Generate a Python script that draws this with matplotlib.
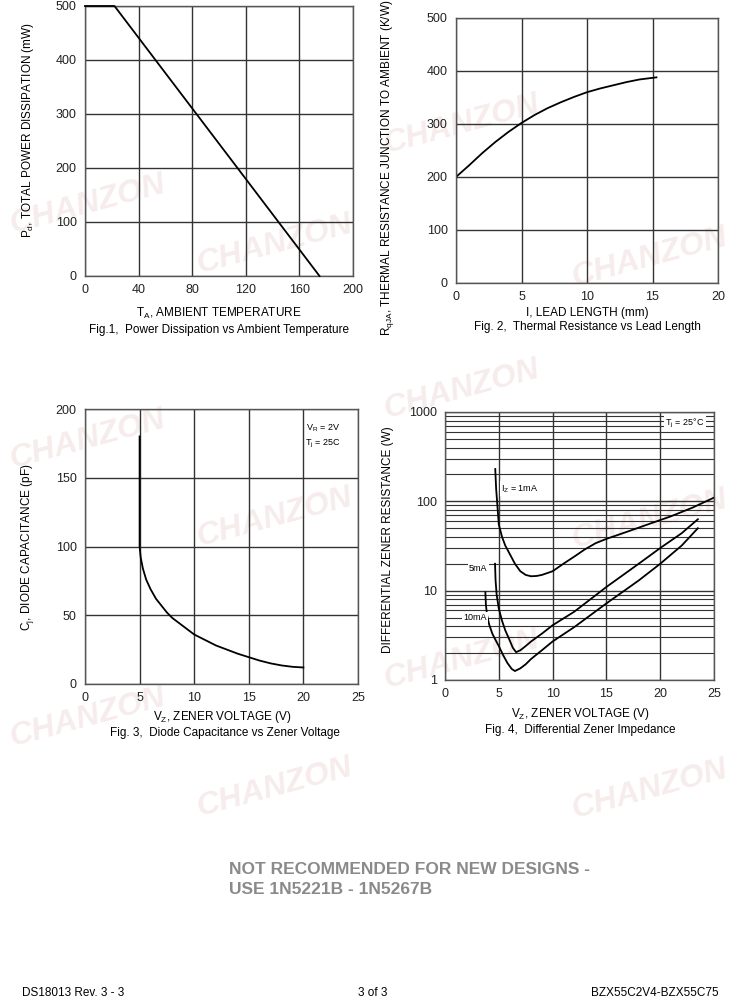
import numpy as np
import matplotlib
matplotlib.use("Agg")
from matplotlib import pyplot as plt

plt.rcParams['font.family'] = ['Liberation Sans', 'DejaVu Sans']

# Fig.1 power derating
temp_c = [0, 22, 175]
power_mw = [500, 500, 0]

# Fig.2 thermal resistance vs lead length
lead_mm = [0, 1, 2, 3, 4, 5, 6, 7, 8, 9, 10, 11, 12, 13, 14, 15.3]
rth_kw = [200, 222, 245, 266, 285, 302, 317, 330, 341, 351, 360, 367, 373, 379, 384, 388]

# Fig.3 capacitance vs zener voltage
vz_cap = [5, 5, 5.1, 5.3, 5.6, 6, 6.5, 7, 7.5, 8, 9, 10, 11, 12, 13, 14, 15, 16, 17, 18, 19, 20]
cap_pf = [180, 100, 92, 84, 76, 69, 62, 57, 52, 48, 42, 36, 32, 28, 25, 22, 19.5, 17, 15, 13.5, 12.5, 12]

# Fig.4 differential resistance
vz_1ma = [4.67, 4.75, 4.9, 5.0, 5.3, 5.6, 6.0, 6.5, 7.0, 7.5, 8.0, 8.5, 9.0, 10, 11, 12, 13, 14, 15, 17, 19, 21, 23, 25]
rz_1ma = [230, 140, 80, 55, 40, 32, 26, 20, 16.5, 15, 14.5, 14.6, 15, 16.5, 20, 24, 29, 34, 38, 46, 56, 68, 85, 110]
vz_5ma = [4.65, 4.7, 4.8, 5.0, 5.3, 5.6, 6.0, 6.3, 6.6, 7.0, 7.5, 8, 9, 10, 12, 15, 18, 20, 22, 23.5]
rz_5ma = [20, 13, 9, 6.3, 4.6, 3.6, 2.8, 2.3, 2.05, 2.15, 2.4, 2.7, 3.3, 4.1, 5.8, 11, 20, 30, 44, 63]
vz_10ma = [3.75, 3.8, 3.9, 4.1, 4.4, 4.7, 5.0, 5.4, 5.8, 6.2, 6.5, 7.0, 7.5, 8, 9, 10, 12, 15, 18, 20, 22, 23.5]
rz_10ma = [9.6, 7.0, 5.4, 4.2, 3.3, 2.8, 2.4, 1.9, 1.55, 1.33, 1.26, 1.35, 1.5, 1.72, 2.15, 2.7, 3.9, 7.2, 13, 20, 32, 50]

W, H = 736, 1000
fig = plt.figure(figsize=(W / 100, H / 100), dpi=100)


def box(l, t, r, b):
    return [l / W, 1 - b / H, (r - l) / W, (b - t) / H]


def ftxt(x, y, s, **kw):
    fig.text(x / W, 1 - y / H, s, **kw)


grid_c = '#333333'


def style(ax):
    ax.grid(True, color=grid_c, lw=1.0)
    ax.set_axisbelow(True)
    for sp in ax.spines.values():
        sp.set_color('#555555')
        sp.set_linewidth(1.0)
    ax.tick_params(length=0, labelsize=9, pad=6, colors='#222222')


# watermarks (drawn first, behind everything)
marks = [(88, 205), (275, 245), (462, 125), (650, 258), (88, 440), (275, 518), (462, 390),
         (650, 520), (88, 718), (275, 788), (462, 660), (650, 790)]
for mx, my in marks:
    ftxt(mx, my, 'CHANZON', ha='center', va='center', fontsize=23, fontweight='bold',
         fontstyle='italic', rotation=15, color='#eed6d6', alpha=0.45, zorder=-1)

# Fig 1
ax1 = fig.add_axes(box(85, 6, 353, 276))
ax1.plot(temp_c, power_mw, color='black', lw=1.3, clip_on=False, zorder=5)
ax1.set_xlim(0, 200)
ax1.set_ylim(0, 500)
ax1.set_xticks([0, 40, 80, 120, 160, 200])
ax1.set_yticks([0, 100, 200, 300, 400, 500])
style(ax1)
ax1.patch.set_alpha(0)
ftxt(219, 313, 'T$_\\mathregular{A}$, AMBIENT TEMPERATURE', ha='center', va='center', fontsize=8.5)
ftxt(219, 330, 'Fig.1,  Power Dissipation vs Ambient Temperature', ha='center', va='center', fontsize=8.5)
ftxt(28, 130, 'P$_\\mathregular{d}$, TOTAL POWER DISSIPATION (mW)', rotation=90, ha='center', va='center', fontsize=8.5)

# Fig 2
ax2 = fig.add_axes(box(456, 18, 718, 283))
ax2.plot(lead_mm, rth_kw, color='black', lw=1.3)
ax2.set_xlim(0, 20)
ax2.set_ylim(0, 500)
ax2.set_xticks([0, 5, 10, 15, 20])
ax2.set_yticks([0, 100, 200, 300, 400, 500])
style(ax2)
ax2.patch.set_alpha(0)
ftxt(587, 313, 'I, LEAD LENGTH (mm)', ha='center', va='center', fontsize=8.5)
ftxt(587, 327, 'Fig. 2,  Thermal Resistance vs Lead Length', ha='center', va='center', fontsize=8.5)
ftxt(387, 168, 'R$_\\mathregular{qJA}$, THERMAL RESISTANCE JUNCTION TO AMBIENT (K/W)', rotation=90,
     ha='center', va='center', fontsize=8.5)

# Fig 3
ax3 = fig.add_axes(box(85, 409, 358, 684))
ax3.plot(vz_cap, cap_pf, color='black', lw=1.3)
ax3.set_xlim(0, 25)
ax3.set_ylim(0, 200)
ax3.set_xticks([0, 5, 10, 15, 20, 25])
ax3.set_yticks([0, 50, 100, 150, 200])
style(ax3)
ax3.patch.set_alpha(0)
ax3.text(0.935, 0.95, 'V$_\\mathregular{R}$ = 2V\nT$_\\mathregular{j}$ = 25C', transform=ax3.transAxes,
         ha='right', va='top', fontsize=6.5, linespacing=1.5)
ftxt(222, 717, 'V$_\\mathregular{Z}$, ZENER VOLTAGE (V)', ha='center', va='center', fontsize=8.5)
ftxt(225, 733, 'Fig. 3,  Diode Capacitance vs Zener Voltage', ha='center', va='center', fontsize=8.5)
ftxt(28, 547, 'C$_\\mathregular{j}$, DIODE CAPACITANCE (pF)', rotation=90, ha='center', va='center', fontsize=8.5)

# Fig 4
ax4 = fig.add_axes(box(445, 412, 714, 680))
ax4.set_yscale('log')
ax4.plot(vz_1ma, rz_1ma, color='black', lw=1.3)
ax4.plot(vz_5ma, rz_5ma, color='black', lw=1.3)
ax4.plot(vz_10ma, rz_10ma, color='black', lw=1.3)
ax4.set_xlim(0, 25)
ax4.set_ylim(1, 1000)
ax4.set_xticks([0, 5, 10, 15, 20, 25])
ax4.set_yticks([1, 10, 100, 1000])
ax4.set_yticklabels(['1', '10', '100', '1000'])
ax4.yaxis.set_minor_formatter(matplotlib.ticker.NullFormatter())
style(ax4)
ax4.patch.set_alpha(0)
ax4.grid(True, which='minor', axis='y', color=grid_c, lw=0.8)
ax4.tick_params(which='minor', length=0)
bb = dict(facecolor='white', edgecolor='none', pad=1)
ax4.text(22.3, 750, 'T$_\\mathregular{j}$ = 25°C', ha='center', va='center', fontsize=6.5, bbox=bb)
ax4.text(5.2, 140, 'I$_\\mathregular{Z}$ = 1mA', ha='left', va='center', fontsize=6.5, bbox=bb)
ax4.text(3.1, 17.5, '5mA', ha='center', va='center', fontsize=6.5, bbox=bb)
ax4.text(2.8, 5, '10mA', ha='center', va='center', fontsize=6.5, bbox=bb)
ftxt(580, 714, 'V$_\\mathregular{Z}$, ZENER VOLTAGE (V)', ha='center', va='center', fontsize=8.5)
ftxt(580, 730, 'Fig. 4,  Differential Zener Impedance', ha='center', va='center', fontsize=8.5)
ftxt(388, 540, 'DIFFERENTIAL ZENER RESISTANCE (W)', rotation=90, ha='center', va='center', fontsize=8.5)

# footer
ftxt(229, 869, 'NOT RECOMMENDED FOR NEW DESIGNS -', ha='left', va='center', fontsize=12.5,
     fontweight='bold', color='#8a8a8a')
ftxt(229, 889, 'USE 1N5221B - 1N5267B', ha='left', va='center', fontsize=12.5,
     fontweight='bold', color='#8a8a8a')
ftxt(22, 993, 'DS18013 Rev. 3 - 3', ha='left', va='center', fontsize=8.5)
ftxt(373, 993, '3 of 3', ha='center', va='center', fontsize=8.5)
ftxt(719, 993, 'BZX55C2V4-BZX55C75', ha='right', va='center', fontsize=8.5)

fig.savefig('out.png', dpi=100)
